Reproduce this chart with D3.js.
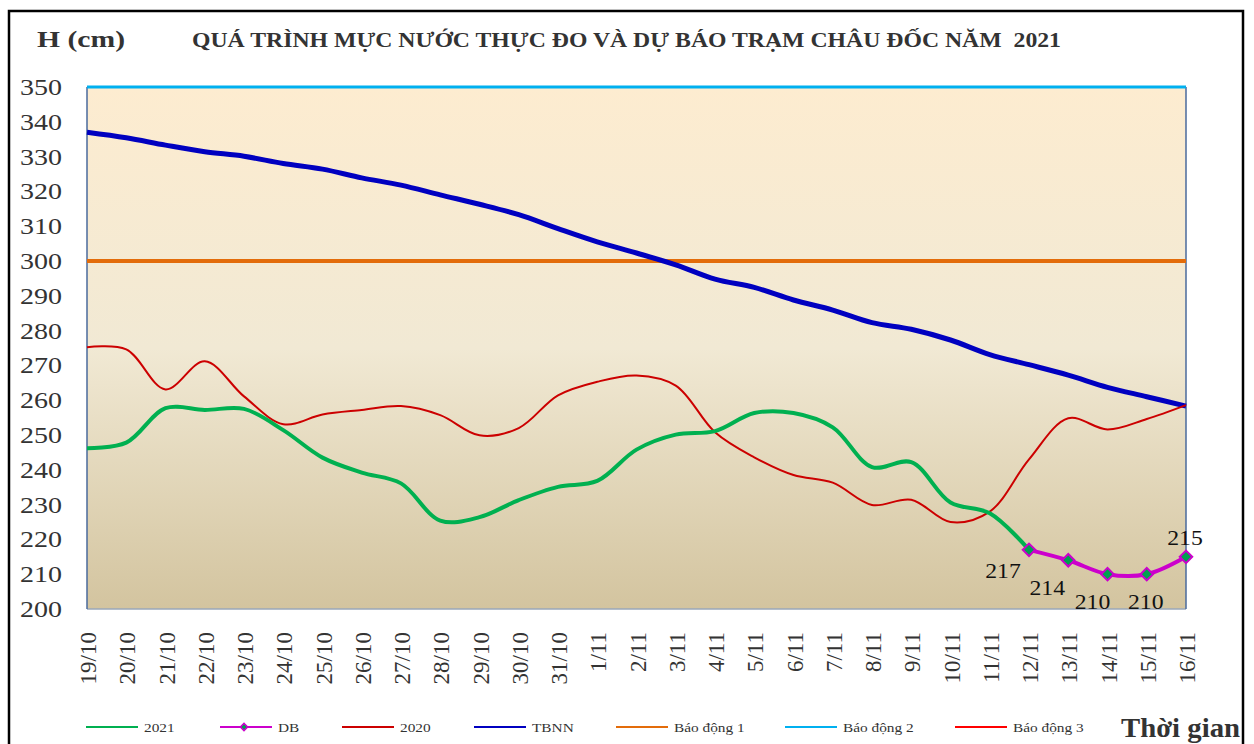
<!DOCTYPE html>
<html><head><meta charset="utf-8">
<script src="https://cdn.jsdelivr.net/npm/d3@7"></script>
<style>body{margin:0;background:#fff}svg{display:block}text{font-family:"Liberation Serif","Times New Roman",serif}</style>
</head><body>
<script>
const dates = ["19/10","20/10","21/10","22/10","23/10","24/10","25/10","26/10","27/10","28/10","29/10","30/10","31/10","1/11","2/11","3/11","4/11","5/11","6/11","7/11","8/11","9/11","10/11","11/11","12/11","13/11","14/11","15/11","16/11"];
const yTicks = [200,210,220,230,240,250,260,270,280,290,300,310,320,330,340,350];
const s2021 = [246.2,247.8,257.7,257.2,257.5,251.4,243.5,239.2,236.1,225.4,226.4,231.3,235.1,236.8,245.8,250.1,251.1,256.3,256.3,252.2,240.8,242.2,230.6,227.5,217];
const dbDates = ["12/11","13/11","14/11","15/11","16/11"];
const sDB = [217,214,210,210,215];
const s2020 = [275.2,274.6,263.1,271.2,261.1,253.1,255.9,257.2,258.3,255.7,249.9,252,261.4,265.3,267.1,264.2,250.8,243.6,238.5,236.3,229.9,231.4,225,228,243,254.8,251.6,254.6,258.6];
const sTBNN = [337,335.4,333.3,331.4,330.1,328,326.4,323.9,321.8,319,316.3,313.3,309.3,305.5,302.3,298.9,294.8,292.4,288.8,285.9,282.3,280.4,277.3,273.1,270.2,267.2,263.7,261,258.3];
const alarm1 = 300, alarm2 = 350, alarm3 = 360;
const legendNames = ["2021","DB","2020","TBNN","Báo động 1","Báo động 2","Báo động 3"];
const title = "QUÁ TRÌNH MỰC NƯỚC THỰC ĐO VÀ DỰ BÁO TRẠM CHÂU ĐỐC NĂM\u00a0\u00a02021";

const W = 1254, H = 744;
const svg = d3.select("body").append("svg").attr("width", W).attr("height", H);
const x = d3.scalePoint().domain(dates).range([87, 1186]);
const y = d3.scaleLinear().domain([200, 350]).range([609, 87]);
const col = {g:"#00b050", db:"#cc00cc", r:"#cc0000", b:"#0000c0", o:"#e36c0a", c:"#00b0f0", r3:"#ff0000"};

// outer frame
svg.append("rect").attr("x", 9).attr("y", 11).attr("width", 1234).attr("height", 760)
  .attr("fill", "none").attr("stroke", "#000").attr("stroke-width", 2.5);

// background gradient
const defs = svg.append("defs");
const grad = defs.append("linearGradient").attr("id", "bg").attr("x1", 0).attr("y1", 0).attr("x2", 0).attr("y2", 1);
grad.append("stop").attr("offset", "0%").attr("stop-color", "#fdecd0");
grad.append("stop").attr("offset", "50%").attr("stop-color", "#f1e9d4");
grad.append("stop").attr("offset", "100%").attr("stop-color", "#d3c49f");
const [x0, x1] = x.range();
svg.append("rect").attr("x", x0).attr("y", y(350)).attr("width", x1 - x0).attr("height", y(200) - y(350)).attr("fill", "url(#bg)");
svg.append("line").attr("x1", x0).attr("x2", x1).attr("y1", y(200)).attr("y2", y(200)).attr("stroke", "#9aa7b8").attr("stroke-width", 1.5);
svg.append("line").attr("x1", x0).attr("x2", x0).attr("y1", y(350)).attr("y2", y(200)).attr("stroke", "#4a6a9c").attr("stroke-width", 1.5);
svg.append("line").attr("x1", x1).attr("x2", x1).attr("y1", y(350)).attr("y2", y(200)).attr("stroke", "#4a6a9c").attr("stroke-width", 1.5);

// y tick labels
svg.append("g").selectAll("text").data(yTicks).join("text")
  .attr("x", 62).attr("y", d => y(d) + 8).attr("text-anchor", "end")
  .attr("font-size", 24).attr("fill", "#333")
  .attr("textLength", 42).attr("lengthAdjust", "spacingAndGlyphs").text(d => d);

// x tick labels
svg.append("g").selectAll("text").data(dates).join("text")
  .attr("transform", d => `translate(${x(d) + 9},632) rotate(-90)`)
  .attr("text-anchor", "end").attr("font-size", 23).attr("fill", "#333").text(d => d);

// alarm lines
svg.append("line").attr("x1", x0).attr("x2", x1).attr("y1", y(alarm1)).attr("y2", y(alarm1)).attr("stroke", col.o).attr("stroke-width", 4);
svg.append("line").attr("x1", x0).attr("x2", x1).attr("y1", y(alarm2)).attr("y2", y(alarm2)).attr("stroke", col.c).attr("stroke-width", 3);

const curve = d3.curveCatmullRom.alpha(0.5);
const line = d3.line().x(d => x(d[0])).y(d => y(d[1])).curve(curve);

svg.append("path").datum(dates.map((d, i) => [d, sTBNN[i]])).attr("d", line)
  .attr("fill", "none").attr("stroke", col.b).attr("stroke-width", 5);
svg.append("path").datum(dates.map((d, i) => [d, s2020[i]])).attr("d", line)
  .attr("fill", "none").attr("stroke", col.r).attr("stroke-width", 2);
svg.append("path").datum(s2021.map((v, i) => [dates[i], v])).attr("d", line)
  .attr("fill", "none").attr("stroke", col.g).attr("stroke-width", 4);
const dbData = dbDates.map((d, i) => [d, sDB[i]]);
svg.append("path").datum(dbData).attr("d", line)
  .attr("fill", "none").attr("stroke", col.db).attr("stroke-width", 4);
svg.append("g").selectAll("path").data(dbData).join("path")
  .attr("d", d3.symbol().type(d3.symbolSquare).size(78))
  .attr("transform", d => `translate(${x(d[0])},${y(d[1])}) rotate(45)`)
  .attr("fill", "#00a050").attr("stroke", col.db).attr("stroke-width", 2);

// DB value labels
const lblOff = [[-26, 28], [-21, 35], [-15, 35], [-1, 35], [-1, -12]];
svg.append("g").selectAll("text").data(dbData).join("text")
  .attr("transform", (d, i) => `translate(${x(d[0]) + lblOff[i][0]},${y(d[1]) + lblOff[i][1]}) scale(1.13,1)`)
  .attr("text-anchor", "middle").attr("font-size", 21).attr("fill", "#111").text(d => d[1]);

// titles
svg.append("text").attr("x", 37).attr("y", 47).attr("font-size", 23).attr("font-weight", "bold").attr("fill", "#333")
  .attr("textLength", 88).attr("lengthAdjust", "spacingAndGlyphs").text("H (cm)");
svg.append("text").attr("x", 192).attr("y", 47).attr("font-size", 20).attr("font-weight", "bold").attr("fill", "#333")
  .attr("textLength", 869).attr("lengthAdjust", "spacingAndGlyphs").text(title);
svg.append("text").attr("x", 1121).attr("y", 737).attr("font-size", 27).attr("font-weight", "bold").attr("fill", "#333")
  .attr("textLength", 119).attr("lengthAdjust", "spacingAndGlyphs").text("Thời gian");

// legend
const legX = [86, 220, 342, 474, 616, 785, 955];
const legColors = [col.g, col.db, col.r, col.b, col.o, col.c, col.r3];
const lg = svg.append("g").selectAll("g").data(legendNames).join("g")
  .attr("transform", (d, i) => `translate(${legX[i]},727)`);
lg.append("line").attr("x1", 0).attr("x2", 52).attr("y1", 0).attr("y2", 0)
  .attr("stroke", (d, i) => legColors[i]).attr("stroke-width", 2);
lg.filter(d => d === "DB").append("path").attr("d", d3.symbol().type(d3.symbolSquare).size(26))
  .attr("transform", "translate(24,0) rotate(45)").attr("fill", "#00a050").attr("stroke", col.db).attr("stroke-width", 1.5);
lg.append("text").attr("transform", "translate(58,5) scale(1.18,1)").attr("font-size", 13).attr("fill", "#333").text(d => d);
</script>
</body></html>
